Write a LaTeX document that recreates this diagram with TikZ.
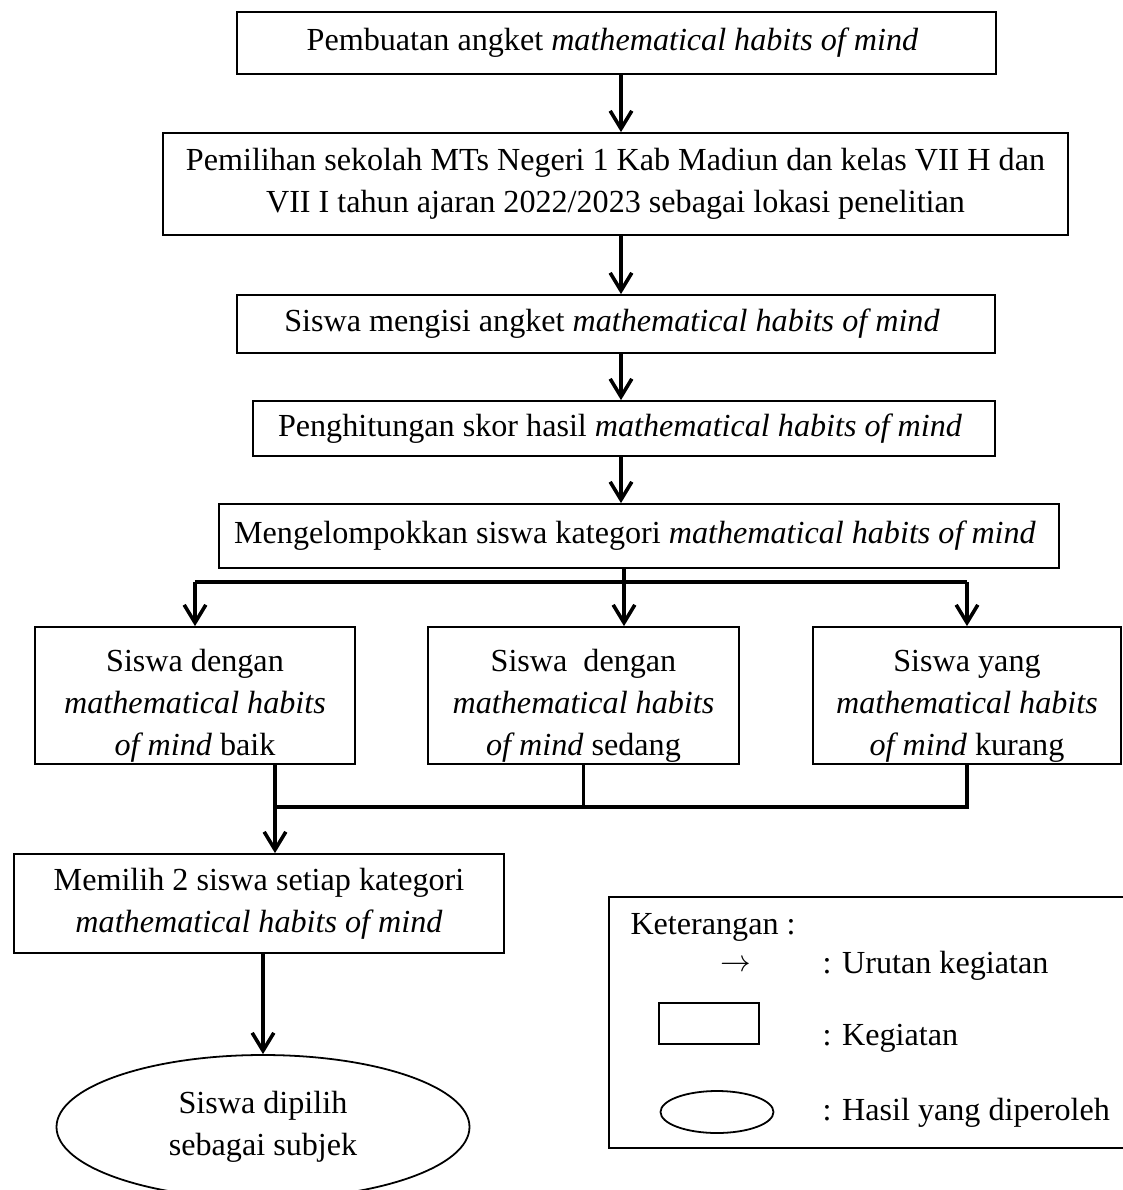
\documentclass[tikz,border=0pt]{standalone}
\usepackage{fontspec}
\setmainfont{Liberation Serif}
\usetikzlibrary{positioning, shapes.geometric, arrows.meta}
\newcommand{\satuan}{0.392pt}
\newcommand{\ganjal}{\rule{0pt}{17pt}}

\begin{document}
\begin{tikzpicture}[x = 0.392pt, y = -0.392pt,
    every node/.style = { align = center, inner sep = 0pt, font = \fontsize{12.6}{16.5}\selectfont },
    kotak/.style = { draw, shape = rectangle, line width = 0.7pt },
    hasil/.style = { draw, shape = ellipse, line width = 0.7pt },
    garis/.style = { line width = 1.4pt },
    alur/.style = { line width = 1.4pt, -{Straight Barb[length = 7pt, width = 8.5pt]} }]
    \useasboundingbox (0,0) rectangle (1123,1190);

    \node [kotak, minimum width = 759*\satuan, minimum height = 62*\satuan] (buat) at (616.5,43)
      { Pembuatan angket \textit{mathematical habits of mind} };
    \node [kotak, minimum width = 905*\satuan, minimum height = 102*\satuan] (sekolah) at (615.5,184)
      { Pemilihan sekolah MTs Negeri 1 Kab Madiun dan kelas VII H dan \\
        VII I tahun ajaran 2022/2023 sebagai lokasi penelitian };
    \node [kotak, minimum width = 758*\satuan, minimum height = 58*\satuan] (isi) at (616,324)
      { Siswa mengisi angket \textit{mathematical habits of mind} };
    \node [kotak, minimum width = 742*\satuan, minimum height = 55*\satuan] (hitung) at (624,428.5)
      { Penghitungan skor hasil \textit{mathematical habits of mind} };
    \node [kotak, minimum width = 840*\satuan, minimum height = 64*\satuan] (kelompok) at (639,536)
      { Mengelompokkan siswa kategori \textit{mathematical habits of mind} };

    \node [kotak, minimum width = 320*\satuan, minimum height = 137*\satuan] (baik) at (195,695.5)
      { \ganjal Siswa dengan \\ \textit{mathematical habits} \\ \textit{of mind} baik };
    \node [kotak, minimum width = 311*\satuan, minimum height = 137*\satuan] (sedang) at (583.5,695.5)
      { \ganjal Siswa\ \ dengan \\ \textit{mathematical habits} \\ \textit{of mind} sedang };
    \node [kotak, minimum width = 308*\satuan, minimum height = 137*\satuan] (kurang) at (967,695.5)
      { \ganjal Siswa yang \\ \textit{mathematical habits} \\ \textit{of mind} kurang };

    \node [kotak, minimum width = 490*\satuan, minimum height = 99*\satuan] (memilih) at (259,903.5)
      { Memilih 2 siswa setiap kategori \\ \textit{mathematical habits of mind} };
    \node [hasil, minimum width = 413*\satuan, minimum height = 144*\satuan] (subjek) at (263,1127)
      { Siswa dipilih \\ sebagai subjek };

    \coordinate (sumbu) at (621,0);
    \coordinate (tengah) at (624,0);
    \coordinate (atas) at (0,582);
    \coordinate (bawah) at (0,807);
    \coordinate (kiri) at (275,0);

    \draw [alur] (buat.south -| sumbu) -- (sekolah.north -| sumbu);
    \draw [alur] (sekolah.south -| sumbu) -- (isi.north -| sumbu);
    \draw [alur] (isi.south -| sumbu) -- (hitung.north -| sumbu);
    \draw [alur] (hitung.south -| sumbu) -- (kelompok.north -| sumbu);

    \draw [alur] (kelompok.south -| tengah) -- (sedang.north -| tengah);
    \draw [garis] (atas -| baik) -- (atas -| kurang);
    \draw [alur] (atas -| baik) -- (baik.north);
    \draw [alur] (atas -| kurang) -- (kurang.north);

    \draw [garis] (baik.south -| kiri) -- (bawah -| kiri) -- (bawah -| kurang) -- (kurang.south);
    \draw [garis] (sedang.south) -- (bawah -| sedang);
    \draw [alur] (bawah -| kiri) -- (memilih.north -| kiri);
    \draw [alur] (memilih.south -| subjek) -- (subjek.north);

    \node [kotak, anchor = north west, minimum width = 527*\satuan, minimum height = 251*\satuan] (ket) at (608,896) {};
    \node [anchor = west] (judul) at (630,927) { Keterangan : };
    \node (panah) at (740,966) { $\rightarrow$ };
    \node [anchor = west] (urutan) at (822,966) { : Urutan kegiatan };
    \node [kotak, minimum width = 100*\satuan, minimum height = 41*\satuan] (contohkotak) at (709,1023.5) {};
    \node [anchor = west] (kegiatan) at (822,1038) { : Kegiatan };
    \node [hasil, minimum width = 113*\satuan, minimum height = 42*\satuan] (contohelips) at (717,1112) {};
    \node [anchor = west] (diperoleh) at (822,1113) { : Hasil yang diperoleh };
\end{tikzpicture}
\end{document}
